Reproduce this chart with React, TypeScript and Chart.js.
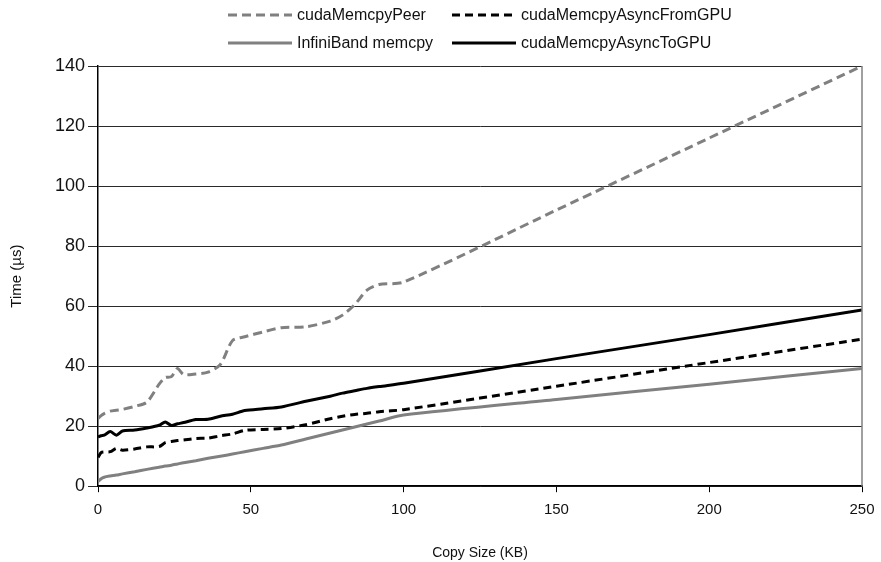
import React, { useEffect, useRef } from "react";
import { Chart, registerables } from "chart.js";
Chart.register(...registerables);

// Copy size (KB)
const sizes = [0, 1, 2, 4, 6, 8, 12, 16, 20, 22, 24, 26, 28, 32, 36, 40, 44, 48, 54, 60, 68, 76, 80, 84, 88, 92, 100, 150, 200, 250];
// Time (µs)
const peer = [22.6, 23.5, 24.2, 25, 25.3, 25.6, 26.6, 28, 34, 36.2, 36.5, 39.2, 37.2, 37.4, 38, 40.5, 48.5, 49.8, 51.4, 52.8, 53.1, 55, 57, 60.5, 65.3, 67.2, 68, 92, 116, 140];
const fromGPU = [9.6, 11.2, 11.4, 11.5, 12.6, 12, 12.4, 13.1, 13.2, 14.5, 14.9, 15.2, 15.4, 15.9, 16, 16.8, 17.4, 18.6, 18.9, 19.2, 20.5, 22.5, 23.3, 23.9, 24.3, 24.8, 25.5, 33.3, 41.2, 49];
const infiniband = [1.5, 2.5, 3, 3.4, 3.7, 4.1, 4.8, 5.6, 6.3, 6.7, 7, 7.4, 7.8, 8.5, 9.3, 10, 10.7, 11.5, 12.6, 13.7, 15.7, 17.7, 18.7, 19.7, 20.7, 21.7, 23.7, 28.9, 34, 39.2];
const toGPU = [16.4, 16.8, 17, 18.2, 17, 18.4, 18.7, 19.4, 20.3, 21.4, 20.2, 20.8, 21.2, 22.2, 22.3, 23.3, 24, 25.2, 25.8, 26.4, 28.3, 30, 31, 31.8, 32.6, 33.2, 34.3, 42.5, 50.5, 58.7];

const seriesNames = ["cudaMemcpyPeer", "cudaMemcpyAsyncFromGPU", "InfiniBand memcpy", "cudaMemcpyAsyncToGPU"];
const xTitle = "Copy Size (KB)";
const yTitle = "Time (µs)";

const GRAY = "#808080";
const BLACK = "#000000";
const FONT = "'Liberation Sans', Arial, sans-serif";

const toPts = (ys: number[]) => sizes.map((x, i) => ({ x, y: ys[i] }));

const legendPlugin = {
  id: "gridLegend",
  afterDraw(chart: any) {
    const ctx = chart.ctx;
    const colX = [228, 452];
    const rowY = [15, 43];
    const lineLen = 64;
    ctx.save();
    ctx.font = `16px ${FONT}`;
    ctx.textBaseline = "middle";
    chart.data.datasets.forEach((ds: any, i: number) => {
      const cx = colX[i % 2];
      const cy = rowY[Math.floor(i / 2)];
      ctx.strokeStyle = ds.borderColor;
      ctx.lineWidth = ds.borderWidth;
      ctx.setLineDash(ds.borderDash || []);
      ctx.beginPath();
      ctx.moveTo(cx, cy);
      ctx.lineTo(cx + lineLen, cy);
      ctx.stroke();
      ctx.setLineDash([]);
      ctx.fillStyle = "#111";
      ctx.fillText(ds.label, cx + lineLen + 5, cy + 1);
    });
    // right border of plot area
    const a = chart.chartArea;
    ctx.strokeStyle = "#808080";
    ctx.lineWidth = 1.5;
    ctx.beginPath();
    ctx.moveTo(a.right, a.top);
    ctx.lineTo(a.right, a.bottom);
    ctx.stroke();
    ctx.restore();
  },
};

export default function App() {
  const ref = useRef<HTMLCanvasElement>(null);
  useEffect(() => {
    document.body.style.margin = "0";
    const chart = new Chart(ref.current as HTMLCanvasElement, {
      type: "line",
      data: {
        datasets: [
          { label: seriesNames[0], data: toPts(peer), borderColor: GRAY, borderWidth: 3, borderDash: [9, 5] },
          { label: seriesNames[1], data: toPts(fromGPU), borderColor: BLACK, borderWidth: 3, borderDash: [8, 5] },
          { label: seriesNames[2], data: toPts(infiniband), borderColor: GRAY, borderWidth: 3 },
          { label: seriesNames[3], data: toPts(toGPU), borderColor: BLACK, borderWidth: 3 },
        ] as any,
      },
      options: {
        animation: false,
        responsive: false,
        devicePixelRatio: 1,
        elements: { point: { radius: 0 }, line: { tension: 0.25, borderCapStyle: "butt" } },
        layout: { padding: { top: 66, right: 19, left: 0, bottom: 0 } },
        plugins: { legend: { display: false }, tooltip: { enabled: false } },
        scales: {
          x: {
            type: "linear",
            min: 0,
            max: 250,
            afterFit: (scale: any) => {
              scale.paddingRight = 0;
            },
            ticks: { stepSize: 50, color: "#111", padding: 9, font: { family: FONT, size: 15 } },
            grid: { drawOnChartArea: false, drawTicks: true, tickLength: 6, color: "#000", lineWidth: 1 },
            border: { display: true, color: "#000", width: 1.5 },
            title: { display: true, text: xTitle, color: "#111", font: { family: FONT, size: 14 }, padding: { top: 17, bottom: 0 } },
          },
          y: {
            type: "linear",
            min: 0,
            max: 140,
            ticks: { stepSize: 20, color: "#111", padding: 3, font: { family: FONT, size: 18 } },
            grid: { drawOnChartArea: true, drawTicks: true, tickLength: 10, color: "#2a2a2a", lineWidth: 1 },
            border: { display: true, color: "#000", width: 1.5 },
            title: { display: true, text: yTitle, color: "#111", font: { family: FONT, size: 15 }, padding: { top: 8, bottom: 26 } },
          },
        },
      },
      plugins: [legendPlugin],
    });
    return () => chart.destroy();
  }, []);
  return (
    <div style={{ position: "absolute", left: 0, top: 0, width: 881, height: 562, background: "#fff" }}>
      <canvas ref={ref} width={881} height={562} />
    </div>
  );
}
